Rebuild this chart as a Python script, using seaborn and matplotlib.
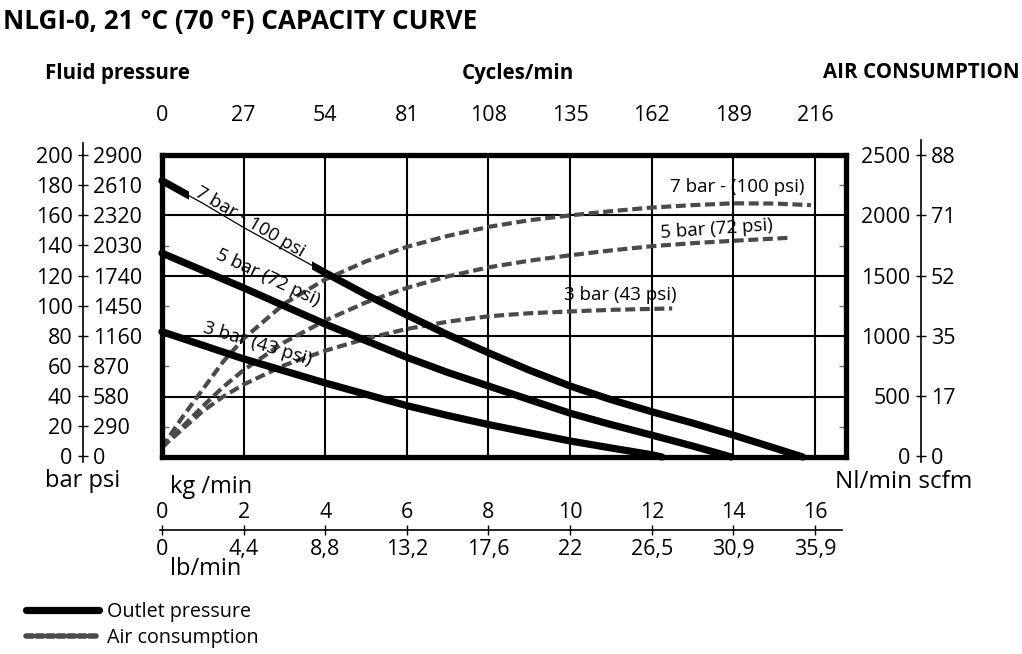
import matplotlib
matplotlib.use("Agg")
import matplotlib.pyplot as plt
from matplotlib.patches import Rectangle
from matplotlib.lines import Line2D
import seaborn as sns

# outlet pressure (bar) against flow (kg/min)
kg_7 = [0, 1, 2, 3, 4, 5, 6, 7, 8, 9, 10, 11, 12, 13, 14, 15, 15.7]
bar_7 = [183, 168, 152, 137, 122, 107.5, 94, 81, 69, 57.5, 47, 38, 30, 22.5, 14.5, 6, 0]
kg_5 = [0, 1, 2, 3, 4, 5, 6, 7, 8, 9, 10, 11, 12, 13, 13.95]
bar_5 = [135, 123.5, 112, 100, 88, 77, 66, 56, 47, 38, 29, 21.5, 14.5, 7.3, 0]
kg_3 = [0, 1, 2, 3, 4, 5, 6, 7, 8, 9, 10, 11, 12, 12.25]
bar_3 = [83, 74, 65, 57, 49, 41.5, 34, 27.5, 21.5, 16, 10.6, 6, 1.5, 0]

# air consumption (Nl/min) against flow (kg/min)
air_kg_7 = [0, 0.5, 1, 1.5, 2, 3, 4, 5, 6, 7, 8, 9, 10, 11, 12, 13, 14, 15, 15.9]
air_7 = [80, 330, 560, 790, 980, 1270, 1470, 1620, 1740, 1830, 1905, 1960, 2000,
         2035, 2065, 2085, 2100, 2098, 2085]
air_kg_5 = [0, 0.5, 1, 1.5, 2, 3, 4, 5, 6, 7, 8, 9, 10, 11, 12, 13, 14, 15.4]
air_5 = [80, 250, 420, 580, 720, 950, 1130, 1280, 1400, 1495, 1570, 1625, 1670,
         1710, 1745, 1770, 1790, 1815]
air_kg_3 = [0, 0.5, 1, 1.5, 2, 3, 4, 5, 6, 7, 8, 9, 10, 11, 12.5]
air_3 = [80, 230, 380, 500, 600, 760, 880, 980, 1060, 1120, 1165, 1190, 1205, 1218, 1230]

# axis scales
kg_ticks = [0, 2, 4, 6, 8, 10, 12, 14, 16]
lb_labels = ["0", "4,4", "8,8", "13,2", "17,6", "22", "26,5", "30,9", "35,9"]
cycles = [0, 27, 54, 81, 108, 135, 162, 189, 216]
bar_ticks = [0, 20, 40, 60, 80, 100, 120, 140, 160, 180, 200]
psi_labels = [0, 290, 580, 870, 1160, 1450, 1740, 2030, 2320, 2610, 2900]
nl_ticks = [0, 500, 1000, 1500, 2000, 2500]
scfm_labels = [0, 17, 35, 52, 71, 88]

sns.set_theme(style="white")
plt.rcParams["font.family"] = ["Open Sans", "DejaVu Sans"]
plt.rcParams["text.color"] = "black"
plt.rcParams["xtick.color"] = "black"
plt.rcParams["ytick.color"] = "black"

W, H = 1022, 654
fx = lambda px: px / W
fy = lambda py: 1 - py / H

fig = plt.figure(figsize=(W / 100, H / 100), dpi=100)
fig.patch.set_facecolor("white")

XMAX = 16.76
ax = fig.add_axes([fx(162), fy(457), fx(846) - fx(162), fy(155) - fy(457)])
ax2 = ax.twinx()
ax.set_xlim(0, XMAX)
ax.set_ylim(0, 200)
ax2.set_ylim(0, 2500)
ax.set_zorder(ax2.get_zorder() + 1)
ax.patch.set_visible(False)
ax2.patch.set_visible(True)
ax2.patch.set_facecolor("white")

# grid lives on the lower axes so the curves sit on top of it
ax2.set_yticks(nl_ticks)
ax2.xaxis.set_visible(True)
ax2.tick_params(axis="both", length=0, labelleft=False, labelright=False,
                labelbottom=False, labeltop=False)
ax2.grid(True, color="black", linewidth=1.5)
for s in ax2.spines.values():
    s.set_visible(False)

for s in ax.spines.values():
    s.set_visible(True)
    s.set_linewidth(3.8)
    s.set_color("black")

ax.set_xticks(kg_ticks, labels=[str(c) for c in cycles])
ax.xaxis.tick_top()
ax.tick_params(axis="x", length=0, pad=21, labelsize=15.5)
ax.set_yticks([])
ax.set_yticks([20, 60, 100, 140, 180], minor=True)
ax.tick_params(axis="y", which="minor", direction="in", left=True, right=True,
               length=5, width=1, color="0.45", labelleft=False)

# air consumption curves (dashed)
dash = (0, (2.4, 1.1))
for xs, ys in [(air_kg_7, air_7), (air_kg_5, air_5), (air_kg_3, air_3)]:
    sns.lineplot(x=xs, y=ys, ax=ax2, color="#4a4a4a", linewidth=3,
                 linestyle=dash, estimator=None, sort=False, legend=False)

# outlet pressure curves (solid)
for xs, ys in [(kg_5, bar_5), (kg_3, bar_3)]:
    sns.lineplot(x=xs, y=ys, ax=ax, color="black", linewidth=5.2,
                 solid_capstyle="round", solid_joinstyle="round",
                 estimator=None, sort=False, legend=False, clip_on=False)

# 7 bar curve: thin under its label, thick elsewhere
sns.lineplot(x=kg_7, y=bar_7, ax=ax, color="black", linewidth=0.9,
             estimator=None, sort=False, legend=False)
for x0, x1 in [(-1, 0.66), (3.67, 20)]:
    sns.lineplot(x=kg_7, y=bar_7, ax=ax, color="black", linewidth=5.2,
                 solid_capstyle="round", solid_joinstyle="round",
                 estimator=None, sort=False, legend=False)
    ln = ax.lines[-1]
    ln.set_clip_box(fig.bbox)
    ln.set_clip_path(Rectangle((x0, -50), x1 - x0, 400, transform=ax.transData))

lab = dict(fontsize=13.5, rotation_mode="anchor", ha="center", va="baseline")
ax.text(2.1, 153, "7 bar - 100 psi", rotation=-30, **lab)
ax.text(2.55, 116, "5 bar (72 psi)", rotation=-25, **lab)
ax.text(2.3, 72, "3 bar (43 psi)", rotation=-17, **lab)
ax2.text(14.1, 2235, "7 bar - (100 psi)", fontsize=13.5, ha="center", va="center")
ax2.text(13.6, 1890, "5 bar (72 psi)", fontsize=13.5, ha="center", va="center", rotation=4)
ax2.text(11.23, 1340, "3 bar (43 psi)", fontsize=13.5, ha="center", va="center")

# left scale: bar | psi
ax_l = fig.add_axes([fx(83), fy(462), 1e-4, fy(143) - fy(462)])
ax_l.set_ylim(-3.65, 208)
ax_l.set_xticks([])
ax_l.set_yticks(bar_ticks, labels=[str(v) for v in bar_ticks])
ax_l.tick_params(axis="y", direction="inout", length=7, width=1, pad=4, labelsize=15.5)
for k, s in ax_l.spines.items():
    s.set_visible(k == "left")
ax_l.spines["left"].set_linewidth(1.2)
ax_l.spines["left"].set_color("black")
ax_l.patch.set_visible(False)
ax_l2 = ax_l.twinx()
ax_l2.set_ylim(-3.65, 208)
ax_l2.set_yticks(bar_ticks, labels=[str(v) for v in psi_labels])
ax_l2.tick_params(axis="y", length=0, pad=7, labelsize=15.5)
for s in ax_l2.spines.values():
    s.set_visible(False)

# right scale: Nl/min | scfm
ax_r = fig.add_axes([fx(921), fy(462), 1e-4, fy(140) - fy(462)])
ax_r.set_ylim(-45.6, 2624)
ax_r.set_xticks([])
ax_r.set_yticks(nl_ticks, labels=[str(v) for v in nl_ticks])
ax_r.tick_params(axis="y", direction="inout", length=7, width=1, pad=4, labelsize=15.5)
for k, s in ax_r.spines.items():
    s.set_visible(k == "left")
ax_r.spines["left"].set_linewidth(1.2)
ax_r.spines["left"].set_color("black")
ax_r.patch.set_visible(False)
ax_r2 = ax_r.twinx()
ax_r2.set_ylim(-45.6, 2624)
ax_r2.set_yticks(nl_ticks, labels=[str(v) for v in scfm_labels])
ax_r2.tick_params(axis="y", length=0, pad=7, labelsize=15.5)
for s in ax_r2.spines.values():
    s.set_visible(False)

# bottom scale: kg/min over lb/min
ax_b = fig.add_axes([fx(162), fy(530), fx(846) - fx(162), 1e-4])
ax_b.set_xlim(0, XMAX)
ax_b.set_yticks([])
ax_b.set_xticks(kg_ticks, labels=lb_labels)
ax_b.tick_params(axis="x", direction="inout", length=7, width=1, pad=3, labelsize=15.5)
for k, s in ax_b.spines.items():
    s.set_visible(k == "bottom")
ax_b.spines["bottom"].set_linewidth(1.2)
ax_b.spines["bottom"].set_color("black")
ax_b.spines["bottom"].set_bounds(-0.05, 16.65)
ax_b.patch.set_visible(False)
ax_b2 = ax_b.twiny()
ax_b2.set_xlim(0, XMAX)
ax_b2.set_xticks(kg_ticks, labels=[str(v) for v in kg_ticks])
ax_b2.tick_params(axis="x", length=0, pad=5, labelsize=15.5)
for s in ax_b2.spines.values():
    s.set_visible(False)

# headings and unit labels
fig.text(fx(3), fy(22), "NLGI-0, 21 °C (70 °F) CAPACITY CURVE", fontsize=18.8,
         weight="bold", ha="left", va="center")
fig.text(fx(45), fy(73), "Fluid pressure", fontsize=14.8, weight="bold", ha="left", va="center")
fig.text(fx(518), fy(73), "Cycles/min", fontsize=14.8, weight="bold", ha="center", va="center")
fig.text(fx(1020), fy(73), "AIR CONSUMPTION", fontsize=14.8, weight="bold", ha="right", va="center")
fig.text(fx(45), fy(481), "bar psi", fontsize=17, ha="left", va="center")
fig.text(fx(170), fy(487), "kg /min", fontsize=17, ha="left", va="center")
fig.text(fx(170), fy(569), "lb/min", fontsize=17, ha="left", va="center")
fig.text(fx(835), fy(482), "Nl/min scfm", fontsize=17.5, ha="left", va="center")

handles = [
    Line2D([], [], color="black", linewidth=5.2, solid_capstyle="round"),
    Line2D([], [], color="#4a4a4a", linewidth=4, linestyle=(0, (1.2, 0.7)),
           dash_capstyle="round"),
]
fig.legend(handles, ["Outlet pressure", "Air consumption"], loc="upper left",
           bbox_to_anchor=(fx(26), fy(602)), frameon=False, fontsize=14.2,
           handlelength=3.7, handletextpad=0.4, labelspacing=0.3,
           borderaxespad=0, borderpad=0)

fig.savefig("out.png", dpi=100, facecolor="white")
